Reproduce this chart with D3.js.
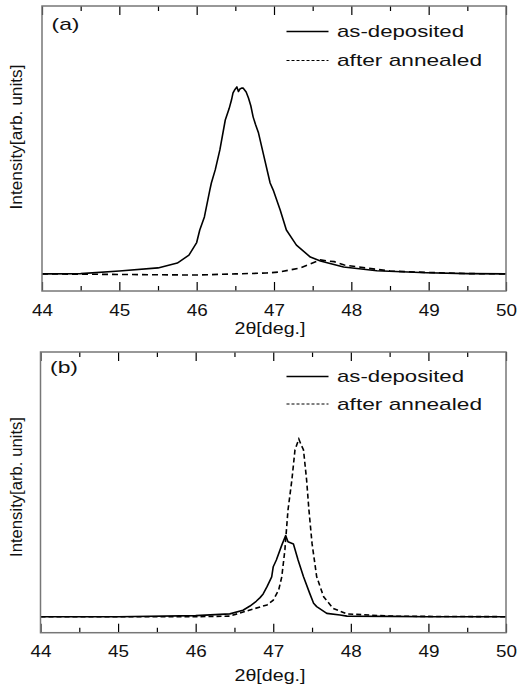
<!DOCTYPE html>
<html><head><meta charset="utf-8">
<script src="https://cdn.jsdelivr.net/npm/d3@7"></script>
<style>
html,body{margin:0;padding:0;background:#fff;}
svg{display:block;font-family:"Liberation Sans",Arial,sans-serif;}
</style></head>
<body>
<svg id="chart" width="518" height="686"></svg>
<script>
// ---------- DATA ----------
const xMajorTicks = [44, 45, 46, 47, 48, 49, 50];
const xMinorTicks = [44.5, 45.5, 46.5, 47.5, 48.5, 49.5];
const seriesNames = ["as-deposited", "after annealed"];
const panelLabels = ["(a)", "(b)"];
const xAxisTitle = "2\u03b8[deg.]";
const yAxisTitle = "Intensity[arb. units]";

// Panel (a) as-deposited
const aDepTheta = [44.0,44.5,45.0,45.5,45.75,45.9,46.0,46.04,46.1,46.17,46.19,46.24,46.30,46.37,46.42,46.45,46.47,46.49,46.52,46.54,46.56,46.58,46.6,46.62,46.64,46.67,46.70,46.73,46.76,46.80,46.86,46.95,46.99,47.08,47.16,47.29,47.47,47.6,47.9,48.33,48.97,49.5,50.0];
const aDepInt   = [60,61,70,81,98,126,170,214,260,354,379,425,495,600,640,670,695,705,716,700,709,712,712,705,698,677,650,611,585,554,484,379,354,284,214,161,119,105,84,71,64,61,60];
// Panel (a) after annealed
const aAnnTheta = [44.0,45.0,46.0,46.5,46.9,47.08,47.34,47.53,47.6,47.7,47.78,47.91,48.1,48.5,49.0,49.5,50.0];
const aAnnInt   = [60,58,56,60,63,67,81,102,109,105,103,91,84,70,65,61,60];
// Panel (b) as-deposited
const bDepTheta = [44.0,45.0,46.0,46.44,46.61,46.70,46.78,46.83,46.87,46.92,46.98,47.00,47.04,47.11,47.16,47.19,47.26,47.32,47.39,47.47,47.52,47.56,47.69,47.86,47.95,48.5,49.0,50.0];
const bDepInt   = [57,57,61,67,80,95,112,125,138,164,199,235,259,312,346,324,316,259,199,140,105,93,69,63,59,58,57,57];
// Panel (b) after annealed
const bAnnTheta = [44.0,46.0,46.44,46.70,46.92,47.00,47.07,47.11,47.15,47.19,47.24,47.28,47.33,47.36,47.39,47.43,47.46,47.50,47.56,47.65,47.77,47.95,48.5,49.0,50.0];
const bAnnInt   = [57,57,59,81,99,116,152,199,295,437,544,651,690,669,651,544,437,318,199,128,87,67,59,58,57];

// ---------- DRAW ----------
const svg = d3.select("#chart");
const fontSize = 17;

const panels = [
  {left:42, right:506, top:6, bottom:291, label:panelLabels[0], labelX:51.5, labelY:30,
   legendY:[31.5, 60.5], yTitleCenter:137, xTitleY:334, tickLabelPad:13,
   dep:[aDepTheta,aDepInt], ann:[aAnnTheta,aAnnInt], dash:"6,4", ytLen:145},
  {left:40.5, right:506, top:352, bottom:632.7, label:panelLabels[1], labelX:50, labelY:373,
   legendY:[376.5, 404], yTitleCenter:487, xTitleY:681, tickLabelPad:12,
   dep:[bDepTheta,bDepInt], ann:[bAnnTheta,bAnnInt], dash:"5,3", ytLen:140}
];

panels.forEach(p => {
  const x = d3.scaleLinear().domain([44, 50]).range([p.left, p.right]);
  const y = d3.scaleLinear().domain([0, 1000]).range([p.bottom, p.top]);
  const g = svg.append("g");

  // curves
  const line = d3.line().x(d => x(d[0])).y(d => y(d[1]));
  const dep = d3.zip(p.dep[0], p.dep[1]);
  const ann = d3.zip(p.ann[0], p.ann[1]);
  g.append("path").datum(ann).attr("d", line).attr("fill","none")
    .attr("stroke","#000").attr("stroke-width",1.6).attr("stroke-dasharray",p.dash);
  g.append("path").datum(dep).attr("d", line).attr("fill","none")
    .attr("stroke","#000").attr("stroke-width",1.6).attr("stroke-linejoin","round");

  // axes
  const bMaj = g.append("g").attr("transform",`translate(0,${p.bottom})`)
    .call(d3.axisBottom(x).tickValues(xMajorTicks).tickSize(-9).tickPadding(p.tickLabelPad).tickFormat(d3.format("d")));
  const bMin = g.append("g").attr("transform",`translate(0,${p.bottom})`)
    .call(d3.axisBottom(x).tickValues(xMinorTicks).tickSize(-5).tickFormat(""));
  const tMaj = g.append("g").attr("transform",`translate(0,${p.top})`)
    .call(d3.axisTop(x).tickValues(xMajorTicks).tickSize(-9).tickFormat(""));
  const tMin = g.append("g").attr("transform",`translate(0,${p.top})`)
    .call(d3.axisTop(x).tickValues(xMinorTicks).tickSize(-5).tickFormat(""));
  [bMaj,bMin,tMaj,tMin].forEach(a => {
    a.select(".domain").remove();
    a.selectAll(".tick line").attr("stroke","#000").attr("stroke-width",1.2);
  });
  bMaj.selectAll(".tick text").attr("font-size",fontSize).attr("fill","#111")
    .attr("font-family","Liberation Sans, Arial, sans-serif")
    .attr("textLength",21).attr("lengthAdjust","spacingAndGlyphs");

  // frame
  g.append("rect").attr("x",p.left).attr("y",p.top)
    .attr("width",p.right-p.left).attr("height",p.bottom-p.top)
    .attr("fill","none").attr("stroke","#777").attr("stroke-width",1.5);

  // panel label
  g.append("text").attr("x",p.labelX).attr("y",p.labelY).text(p.label).attr("fill","#111")
    .attr("font-size",fontSize).attr("textLength",28).attr("lengthAdjust","spacingAndGlyphs");

  // legend
  const lx1 = 286.5, lx2 = 328.5, tx = 337;
  g.append("line").attr("x1",lx1).attr("x2",lx2).attr("y1",p.legendY[0]).attr("y2",p.legendY[0])
    .attr("stroke","#000").attr("stroke-width",1.6);
  g.append("line").attr("x1",lx1).attr("x2",lx2).attr("y1",p.legendY[1]).attr("y2",p.legendY[1])
    .attr("stroke","#000").attr("stroke-width",1).attr("stroke-dasharray","3,2");
  g.append("text").attr("x",tx).attr("y",p.legendY[0]+5.5).text(seriesNames[0]).attr("fill","#111")
    .attr("font-size",fontSize).attr("textLength",127).attr("lengthAdjust","spacingAndGlyphs");
  g.append("text").attr("x",tx).attr("y",p.legendY[1]+5.5).text(seriesNames[1]).attr("fill","#111")
    .attr("font-size",fontSize).attr("textLength",145).attr("lengthAdjust","spacingAndGlyphs");

  // axis titles
  g.append("text").attr("x",270).attr("y",p.xTitleY).attr("text-anchor","middle").attr("fill","#111")
    .text(xAxisTitle).attr("font-size",16).attr("textLength",71).attr("lengthAdjust","spacingAndGlyphs");
  g.append("text").attr("transform",`translate(22,${p.yTitleCenter}) rotate(-90)`).attr("fill","#111")
    .attr("text-anchor","middle").text(yAxisTitle).attr("font-size",16)
    .attr("textLength",p.ytLen).attr("lengthAdjust","spacingAndGlyphs");
});
</script>
</body></html>
